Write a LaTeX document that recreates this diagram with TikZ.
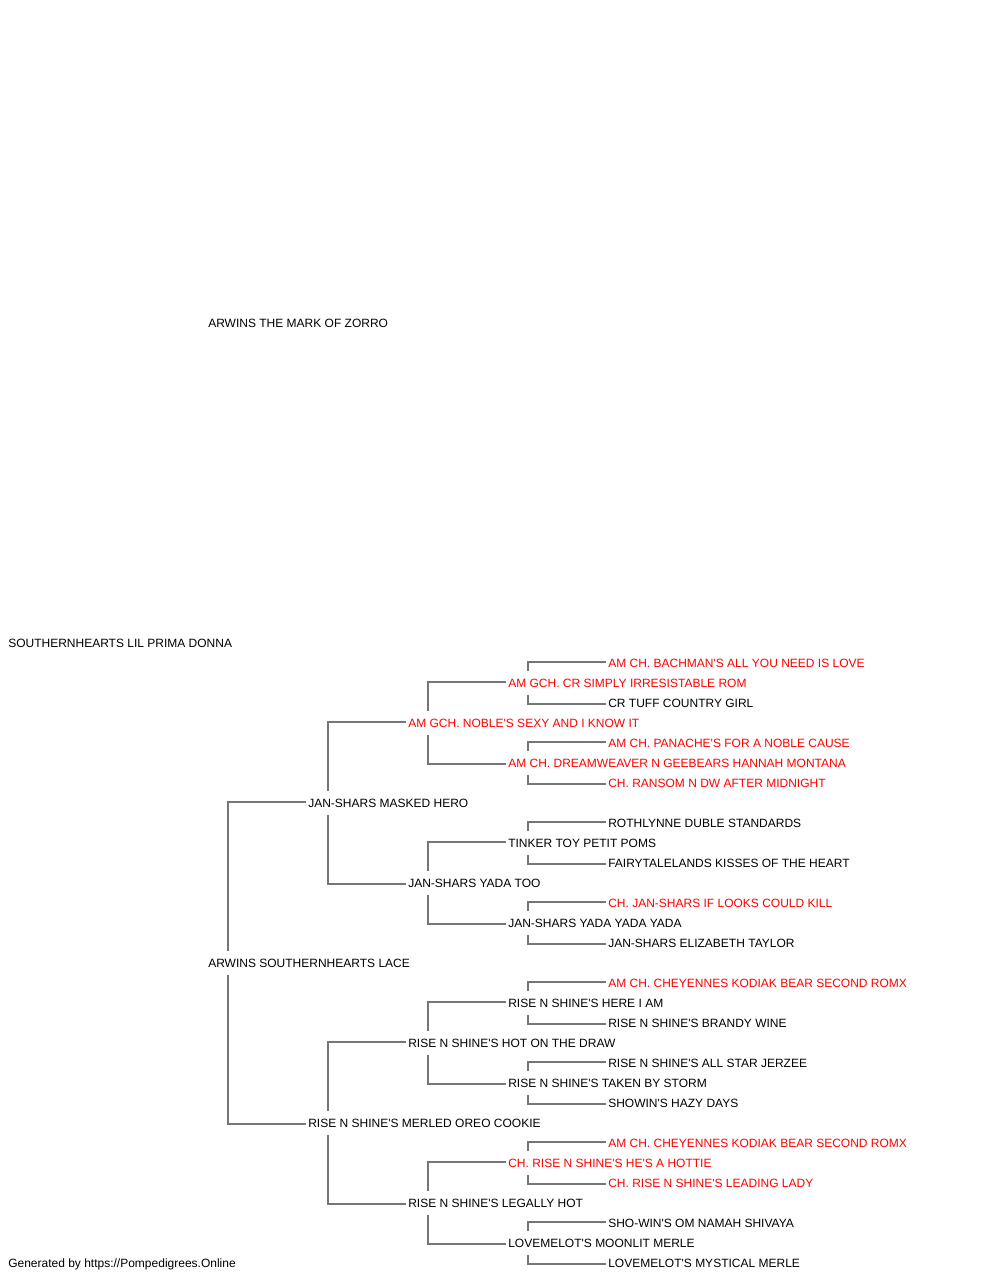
\documentclass[tikz,border=0pt]{standalone}
\usepackage{fontspec}
\setmainfont{Liberation Sans}[Ligatures=TeXOff]
\usepackage{tikz}
\definecolor{pedred}{RGB}{255,0,0}
\definecolor{linkgray}{RGB}{118,118,118}
\tikzset{dog/.style={anchor=west, inner sep=0pt, text height=6.44pt, text depth=0pt,
minimum height=17.25pt, font=\fontsize{9}{11}\selectfont},
champ/.style={dog, text=pedred},
link/.style={draw=linkgray, line width=1.5pt}}

\begin{document}
\begin{tikzpicture}[x=0.75pt, y=-0.75pt]
	\useasboundingbox (0,0) rectangle (1000,1280);

	% dog and parents
	\node[dog](prima) at (8,643) {SOUTHERNHEARTS LIL PRIMA DONNA};
	\node[dog](zorro) at (208,323) {ARWINS THE MARK OF ZORRO};
	\node[dog](lace) at (208,963) {ARWINS SOUTHERNHEARTS LACE};

	% grandparents
	\node[dog](hero) at (308,803) {JAN-SHARS MASKED HERO};
	\node[dog](cookie) at (308,1123) {RISE N SHINE'S MERLED OREO COOKIE};

	\node[champ](noble) at (408,723) {AM GCH. NOBLE'S SEXY AND I KNOW IT};
	\node[dog](yadatoo) at (408,883) {JAN-SHARS YADA TOO};
	\node[dog](hotdraw) at (408,1043) {RISE N SHINE'S HOT ON THE DRAW};
	\node[dog](legally) at (408,1203) {RISE N SHINE'S LEGALLY HOT};

	\node[champ](simply) at (508,683) {AM GCH. CR SIMPLY IRRESISTABLE ROM};
	\node[champ](dreamweaver) at (508,763) {AM CH. DREAMWEAVER N GEEBEARS HANNAH MONTANA};
	\node[dog](tinker) at (508,843) {TINKER TOY PETIT POMS};
	\node[dog](yadayada) at (508,923) {JAN-SHARS YADA YADA YADA};
	\node[dog](hereiam) at (508,1003) {RISE N SHINE'S HERE I AM};
	\node[dog](taken) at (508,1083) {RISE N SHINE'S TAKEN BY STORM};
	\node[champ](hottie) at (508,1163) {CH. RISE N SHINE'S HE'S A HOTTIE};
	\node[dog](moonlit) at (508,1243) {LOVEMELOT'S MOONLIT MERLE};

	\node[champ](bachman) at (608,663) {AM CH. BACHMAN'S ALL YOU NEED IS LOVE};
	\node[dog](tuff) at (608,703) {CR TUFF COUNTRY GIRL};
	\node[champ](panache) at (608,743) {AM CH. PANACHE'S FOR A NOBLE CAUSE};
	\node[champ](ransom) at (608,783) {CH. RANSOM N DW AFTER MIDNIGHT};
	\node[dog](rothlynne) at (608,823) {ROTHLYNNE DUBLE STANDARDS};
	\node[dog](kisses) at (608,863) {FAIRYTALELANDS KISSES OF THE HEART};
	\node[champ](looks) at (608,903) {CH. JAN-SHARS IF LOOKS COULD KILL};
	\node[dog](taylor) at (608,943) {JAN-SHARS ELIZABETH TAYLOR};
	\node[champ](kodiak) at (608,983) {AM CH. CHEYENNES KODIAK BEAR SECOND ROMX};
	\node[dog](brandy) at (608,1023) {RISE N SHINE'S BRANDY WINE};
	\node[dog](jerzee) at (608,1063) {RISE N SHINE'S ALL STAR JERZEE};
	\node[dog](hazy) at (608,1103) {SHOWIN'S HAZY DAYS};
	\node[champ](kodiakb) at (608,1143) {AM CH. CHEYENNES KODIAK BEAR SECOND ROMX};
	\node[champ](leading) at (608,1183) {CH. RISE N SHINE'S LEADING LADY};
	\node[dog](shivaya) at (608,1223) {SHO-WIN'S OM NAMAH SHIVAYA};
	\node[dog](mystical) at (608,1263) {LOVEMELOT'S MYSTICAL MERLE};

	\node[dog](credit) at (8,1263) {Generated by https://Pompedigrees.Online};

	% sire up, dam down
	\draw[link] ([shift={(-2,-1)}]hero.west) -| ([shift={(20,0)}]lace.north west)
		([shift={(-2,1)}]cookie.west) -| ([shift={(20,0)}]lace.south west);
	\draw[link] ([shift={(-2,-1)}]noble.west) -| ([shift={(20,0)}]hero.north west)
		([shift={(-2,1)}]yadatoo.west) -| ([shift={(20,0)}]hero.south west);
	\draw[link] ([shift={(-2,-1)}]hotdraw.west) -| ([shift={(20,0)}]cookie.north west)
		([shift={(-2,1)}]legally.west) -| ([shift={(20,0)}]cookie.south west);
	\draw[link] ([shift={(-2,-1)}]simply.west) -| ([shift={(20,0)}]noble.north west)
		([shift={(-2,1)}]dreamweaver.west) -| ([shift={(20,0)}]noble.south west);
	\draw[link] ([shift={(-2,-1)}]tinker.west) -| ([shift={(20,0)}]yadatoo.north west)
		([shift={(-2,1)}]yadayada.west) -| ([shift={(20,0)}]yadatoo.south west);
	\draw[link] ([shift={(-2,-1)}]hereiam.west) -| ([shift={(20,0)}]hotdraw.north west)
		([shift={(-2,1)}]taken.west) -| ([shift={(20,0)}]hotdraw.south west);
	\draw[link] ([shift={(-2,-1)}]hottie.west) -| ([shift={(20,0)}]legally.north west)
		([shift={(-2,1)}]moonlit.west) -| ([shift={(20,0)}]legally.south west);
	\draw[link] ([shift={(-2,-1)}]bachman.west) -| ([shift={(20,0)}]simply.north west)
		([shift={(-2,1)}]tuff.west) -| ([shift={(20,0)}]simply.south west);
	\draw[link] ([shift={(-2,-1)}]panache.west) -| ([shift={(20,0)}]dreamweaver.north west)
		([shift={(-2,1)}]ransom.west) -| ([shift={(20,0)}]dreamweaver.south west);
	\draw[link] ([shift={(-2,-1)}]rothlynne.west) -| ([shift={(20,0)}]tinker.north west)
		([shift={(-2,1)}]kisses.west) -| ([shift={(20,0)}]tinker.south west);
	\draw[link] ([shift={(-2,-1)}]looks.west) -| ([shift={(20,0)}]yadayada.north west)
		([shift={(-2,1)}]taylor.west) -| ([shift={(20,0)}]yadayada.south west);
	\draw[link] ([shift={(-2,-1)}]kodiak.west) -| ([shift={(20,0)}]hereiam.north west)
		([shift={(-2,1)}]brandy.west) -| ([shift={(20,0)}]hereiam.south west);
	\draw[link] ([shift={(-2,-1)}]jerzee.west) -| ([shift={(20,0)}]taken.north west)
		([shift={(-2,1)}]hazy.west) -| ([shift={(20,0)}]taken.south west);
	\draw[link] ([shift={(-2,-1)}]kodiakb.west) -| ([shift={(20,0)}]hottie.north west)
		([shift={(-2,1)}]leading.west) -| ([shift={(20,0)}]hottie.south west);
	\draw[link] ([shift={(-2,-1)}]shivaya.west) -| ([shift={(20,0)}]moonlit.north west)
		([shift={(-2,1)}]mystical.west) -| ([shift={(20,0)}]moonlit.south west);
\end{tikzpicture}
\end{document}
